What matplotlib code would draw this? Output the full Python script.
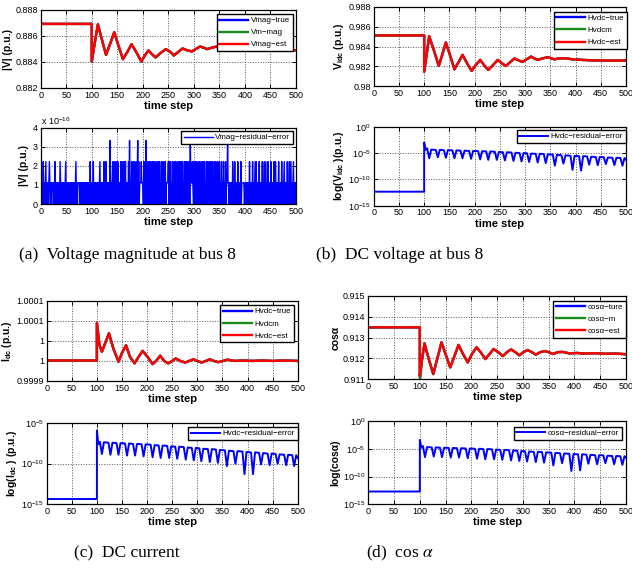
import matplotlib
matplotlib.use("Agg")
import matplotlib.pyplot as plt
import numpy as np
from matplotlib.ticker import FixedLocator, NullLocator

plt.rcParams['font.family'] = ['Liberation Sans', 'DejaVu Sans']
plt.rcParams['mathtext.fontset'] = 'stix'

# ---- state estimates (true / measured / estimated overlap) ----
t_vmag = [0, 100, 100, 106, 112, 120, 128, 136, 144, 152, 161, 170, 178, 188, 197,
          204, 211, 218, 225, 235, 245, 253, 261, 270, 278, 287, 296, 304, 312, 319,
          326, 335, 345, 353, 362, 370, 380, 390, 400, 415, 430, 445, 460, 475, 490, 500]
vmag = [0.88693, 0.88693, 0.88404, 0.8855, 0.88690, 0.8857, 0.88455, 0.8854, 0.88629,
        0.8853, 0.88422, 0.8848, 0.88537, 0.8847, 0.88404, 0.8845, 0.88489, 0.8846,
        0.88435, 0.8847, 0.88499, 0.8848, 0.8845, 0.8848, 0.88504, 0.8849, 0.88481,
        0.8850, 0.88519, 0.8851, 0.88499, 0.8851, 0.88519, 0.8851, 0.8850, 0.8851,
        0.88515, 0.8850, 0.88495, 0.8850, 0.88497, 0.88502, 0.88495, 0.8850, 0.88492, 0.88490]

t_vdc = [0, 100, 100, 105, 110, 120, 129, 136, 143, 152, 160, 168, 176, 185, 194, 202,
         211, 219, 227, 236, 246, 254, 262, 270, 279, 287, 295, 303, 312, 318, 325, 335,
         345, 352, 358, 368, 378, 395, 414, 435, 455, 475, 500]
vdc = [0.98512, 0.98512, 0.98146, 0.9832, 0.98503, 0.9835, 0.98203, 0.9832, 0.98441,
       0.9830, 0.98169, 0.9824, 0.98315, 0.9823, 0.98153, 0.9821, 0.98264, 0.9821,
       0.98163, 0.9821, 0.98264, 0.9823, 0.98203, 0.9824, 0.98278, 0.9826, 0.98244,
       0.9827, 0.98298, 0.9828, 0.98264, 0.9828, 0.98292, 0.9828, 0.9827, 0.9828,
       0.98281, 0.9827, 0.98264, 0.9826, 0.98258, 0.98257, 0.98258]

t_idc = [0, 100, 100, 105, 110, 117, 124, 133, 143, 150, 158, 166, 175, 183, 191, 201,
         211, 218, 226, 234, 242, 250, 257, 266, 276, 284, 292, 300, 309, 317, 325, 333,
         342, 351, 360, 375, 390, 410, 430, 450, 470, 500]
idc = [0.999951, 0.999951, 1.000045, 0.99999, 0.999973, 0.999996, 1.0000187, 0.99998,
       0.999948, 0.99997, 0.9999888, 0.99996, 0.999944, 0.99996, 0.999975, 0.99996,
       0.999942, 0.99995, 0.999963, 0.99995, 0.999944, 0.99995, 0.999956, 0.99995,
       0.999946, 0.99995, 0.999954, 0.99995, 0.999946, 0.99995, 0.999954, 0.99995,
       0.999947, 0.99995, 0.999953, 0.99995, 0.999951, 0.99995, 0.999951, 0.99995,
       0.999951, 0.99995]

t_cosa = [0, 100, 100, 104, 109, 117, 126, 134, 142, 150, 159, 167, 175, 184, 193, 201,
          210, 218, 227, 235, 243, 252, 261, 269, 277, 285, 293, 301, 309, 317, 325, 334,
          343, 350, 358, 368, 377, 390, 405, 420, 440, 460, 480, 500]
cosa = [0.913486, 0.913486, 0.91115, 0.9119, 0.91272, 0.9120, 0.91125, 0.9120, 0.91277,
        0.9122, 0.91157, 0.9121, 0.91264, 0.9122, 0.91181, 0.9122, 0.91253, 0.9123,
        0.91197, 0.9122, 0.91245, 0.9123, 0.91211, 0.9123, 0.91243, 0.9123, 0.91215,
        0.9123, 0.9124, 0.9123, 0.91218, 0.9123, 0.91235, 0.9123, 0.91221, 0.9123,
        0.91231, 0.91224, 0.91226, 0.91223, 0.91225, 0.91222, 0.91223, 0.9122]
cosa_meas_dip = 0.9108   # measured value right after the fault

# ---- residuals ----
# |V| residual in multiples of 1.11e-16, one digit per time step (0..500)
vmag_res_digits = [
    "0101020101" "2010101210" "1011101020" "1010101021" "0101011012",
    "0101010110" "1010101012" "0101111010" "1010101101" "0101010201",
    "0102010101" "0101012010" "1010201020" "1010103010" "1202012021",
    "0201010202" "0120202010" "1020301020" "1202010201" "3020111211",
    "1020203020" "2012020120" "2020102021" "0202010202" "0120201111",
    "2020201020" "1202020102" "0201202020" "1020202012" "0203111210",
    "2010202010" "2020102012" "0201020201" "2020120201" "0202010201",
    "2010201020" "1020113110" "1010102010" "2010102010" "1020111110",
    "1101010102" "0101020101" "2020101020" "1010201020" "1201020101",
    "0201010201" "2010102010" "1020101201" "0102010201" "20101201011",
]
res_quantum = 1.11e-16

res_t = [0, 100, 100, 103, 106,
         110, 114, 123, 127, 131, 139, 143, 147, 156, 160, 164, 172,
         176, 180, 189, 193, 197, 207, 211, 215, 223, 227, 231, 240,
         244, 248, 256, 260, 264, 273, 277, 281, 289, 293, 297, 304,
         308, 312, 321, 325, 329, 337, 341, 345, 355, 359, 363, 372,
         376, 380, 390, 394, 398, 407, 411, 415, 423, 427, 431, 440,
         444, 448, 456, 460, 464, 473, 477, 481, 489, 493, 497, 500]
# log10 of residual errors
vdc_res_log = [-12.34, -12.34, -3.0, -4.4, -4.1,
               -6.0, -4.35, -4.4, -5.8, -4.4, -4.45, -5.9, -4.45, -4.5, -6.0, -4.5, -4.55,
               -6.0, -4.55, -4.6, -6.1, -4.6, -4.65, -6.2, -4.65, -4.7, -6.3, -4.7, -4.75,
               -6.3, -4.8, -4.85, -6.4, -4.85, -4.9, -6.5, -4.95, -5.0, -6.6, -5.0, -5.05,
               -6.7, -5.1, -5.15, -6.8, -5.15, -5.2, -6.9, -5.25, -5.3, -7.4, -5.35, -5.4,
               -7.0, -5.45, -5.5, -8.2, -5.55, -5.6, -8.35, -5.6, -5.65, -7.2, -5.7, -5.75,
               -7.3, -5.75, -5.8, -7.1, -5.85, -5.9, -7.3, -5.9, -5.95, -7.4, -5.95, -6.3]
idc_res_log = [-14.38, -14.38, -5.9, -7.6, -7.3,
               -8.8, -7.35, -7.4, -8.9, -7.4, -7.45, -8.9, -7.45, -7.5, -9.0, -7.5, -7.55,
               -9.0, -7.55, -7.6, -9.1, -7.6, -7.65, -9.2, -7.7, -7.75, -9.3, -7.75, -7.8,
               -9.3, -7.85, -7.9, -9.4, -7.9, -7.95, -9.5, -8.0, -8.05, -9.6, -8.05, -8.1,
               -9.7, -8.15, -8.2, -9.8, -8.2, -8.25, -9.9, -8.3, -8.35, -10.3, -8.4, -8.45,
               -10.0, -8.45, -8.5, -11.3, -8.55, -8.6, -11.3, -8.6, -8.65, -10.1, -8.7, -8.75,
               -10.2, -8.75, -8.8, -10.0, -8.85, -8.9, -10.2, -8.9, -8.95, -10.3, -8.95, -9.3]
cosa_res_log = [-12.7, -12.7, -3.4, -4.8, -4.5,
                -6.5, -4.7, -4.75, -6.4, -4.75, -4.8, -6.5, -4.8, -4.85, -6.6, -4.85, -4.9,
                -6.6, -4.9, -4.95, -6.7, -4.95, -5.0, -6.8, -5.0, -5.05, -6.9, -5.05, -5.1,
                -6.9, -5.15, -5.2, -7.0, -5.2, -5.25, -7.1, -5.3, -5.35, -7.2, -5.4, -5.45,
                -7.3, -5.5, -5.55, -7.4, -5.55, -5.6, -7.5, -5.65, -5.7, -8.0, -5.75, -5.8,
                -7.6, -5.85, -5.9, -9.0, -5.95, -6.0, -8.9, -6.0, -6.05, -7.7, -6.1, -6.15,
                -7.8, -6.15, -6.2, -7.6, -6.25, -6.3, -7.8, -6.3, -6.35, -7.9, -6.35, -6.6]

BLUE, GREEN, RED = '#0000ff', '#1a8c1a', '#ff0000'
W, H = 632, 570


def add_axes(fig, left, right, top, bottom):
    return fig.add_axes([left / W, 1 - bottom / H, (right - left) / W, (bottom - top) / H])


def style(ax):
    ax.set_xlim(0, 500)
    ax.set_xticks(np.arange(0, 501, 50))
    ax.grid(True, linestyle=':', color='#555555', linewidth=0.7)
    ax.tick_params(direction='in', length=3, labelsize=6.5, pad=2,
                   top=True, right=True, width=0.7)
    ax.set_xlabel('time step', fontsize=8, fontweight='bold', labelpad=1)
    for sp in ax.spines.values():
        sp.set_linewidth(0.9)


def legend(ax, x, y):
    lg = ax.legend(loc='upper right', bbox_to_anchor=(x, y), borderaxespad=0,
                   fontsize=5.8, fancybox=False, framealpha=1, edgecolor='black',
                   handlelength=3.6, handletextpad=0.3, labelspacing=0.55,
                   borderpad=0.35)
    lg.get_frame().set_linewidth(1.0)


def state_panel(ax, t, true_v, meas_v, est_v, labels):
    ax.plot(t, true_v, color=BLUE, lw=1.7, label=labels[0])
    ax.plot(t, meas_v, color=GREEN, lw=1.7, label=labels[1])
    ax.plot(t, est_v, color=RED, lw=1.7, label=labels[2])
    style(ax)


def log_panel(ax, t, logv, label, lo, hi):
    ax.semilogy(t, 10.0 ** np.array(logv), color=BLUE, lw=1.4, label=label)
    style(ax)
    ax.set_ylim(10.0 ** lo, 10.0 ** hi)
    ax.yaxis.set_major_locator(FixedLocator([10.0 ** k for k in range(lo, hi + 1, 5)]))
    ax.yaxis.set_minor_locator(NullLocator())


fig = plt.figure(figsize=(W / 100, H / 100), dpi=100)

# (a) voltage magnitude
ax = add_axes(fig, 40.7, 296, 10, 88)
state_panel(ax, t_vmag, vmag, vmag, vmag, ['Vmag\u2212true', 'Vm\u2212mag', 'Vmag\u2212est'])
ax.set_ylim(0.882, 0.888)
ax.set_yticks([0.882, 0.884, 0.886, 0.888])
ax.set_yticklabels(['0.882', '0.884', '0.886', '0.888'])
ax.set_ylabel('|V| (p.u.)', fontsize=7.5, fontweight='bold', labelpad=2)
legend(ax, 0.988, 0.95)

ax = add_axes(fig, 40.7, 296, 127.7, 204)
levels = np.array([int(c) for c in ''.join(vmag_res_digits)])
ax.plot(np.arange(len(levels)), levels * res_quantum / 1e-16, color=BLUE, lw=1.0,
        label='Vmag\u2212residual\u2212error')
style(ax)
ax.set_ylim(0, 4)
ax.set_yticks([0, 1, 2, 3, 4])
ax.set_ylabel('|V| (p.u.)', fontsize=7.5, fontweight='bold', labelpad=3)
ax.text(0, 1.03, 'x 10$^{\\mathregular{-16}}$', transform=ax.transAxes, fontsize=6.5)
legend(ax, 0.988, 0.957)

# (b) DC voltage
ax = add_axes(fig, 373.7, 626, 7, 86)
state_panel(ax, t_vdc, vdc, vdc, vdc, ['Hvdc\u2212true', 'Hvdcm', 'Hvdc\u2212est'])
ax.set_ylim(0.980, 0.988)
ax.set_yticks([0.980, 0.982, 0.984, 0.986, 0.988])
ax.set_yticklabels(['0.98', '0.982', '0.984', '0.986', '0.988'])
ax.set_ylabel('V$_{\\mathregular{idc}}$ (p.u.)', fontsize=7.5, fontweight='bold', labelpad=2)
legend(ax, 1.005, 0.94)

ax = add_axes(fig, 373.7, 626, 126.7, 205.7)
log_panel(ax, res_t, vdc_res_log, 'Hvdc\u2212residual\u2212error', -15, 0)
ax.set_ylabel('log(V$_{\\mathregular{idc}}$ )(p.u.)', fontsize=7.5, fontweight='bold', labelpad=2)
legend(ax, 1.0, 0.958)

# (c) DC current
ax = add_axes(fig, 46.7, 297.7, 300.7, 381)
state_panel(ax, t_idc, idc, idc, idc, ['Hvdc\u2212true', 'Hvdcm', 'Hvdc\u2212est'])
ax.set_ylim(0.9999, 1.0001)
ax.set_yticks([0.9999, 0.99995, 1.0, 1.00005, 1.0001])
ax.set_yticklabels(['0.9999', '1', '1', '1.0001', '1.0001'])
ax.set_ylabel('I$_{\\mathregular{dc}}$ (p.u.)', fontsize=7.5, fontweight='bold', labelpad=2)
legend(ax, 0.985, 0.946)

ax = add_axes(fig, 46.7, 297.7, 423.3, 504)
log_panel(ax, res_t, idc_res_log, 'Hvdc\u2212residual\u2212error', -15, -5)
ax.set_ylabel('log(I$_{\\mathregular{dc}}$ ) (p.u.)', fontsize=7.5, fontweight='bold', labelpad=2)
legend(ax, 1.0, 0.954)

# (d) cos alpha
ax = add_axes(fig, 368.3, 626, 295.7, 379.3)
cosa_meas = list(cosa)
cosa_meas[2] = cosa_meas_dip
state_panel(ax, t_cosa, cosa, cosa_meas, cosa,
            ['cos\u03b1\u2212ture', 'cos\u03b1\u2212m', 'cos\u03b1\u2212est'])
ax.set_ylim(0.911, 0.915)
ax.set_yticks([0.911, 0.912, 0.913, 0.914, 0.915])
ax.set_yticklabels(['0.911', '0.912', '0.913', '0.914', '0.915'])
ax.set_ylabel('cos\u03b1', fontsize=7.5, fontweight='bold', labelpad=2)
legend(ax, 1.0, 0.94)

ax = add_axes(fig, 368.3, 626, 421, 504.3)
log_panel(ax, res_t, cosa_res_log, 'cos\u03b1\u2212residual\u2212error', -15, 0)
ax.set_ylabel('log(cos\u03b1)', fontsize=7.5, fontweight='bold', labelpad=2)
legend(ax, 0.984, 0.93)

# sub-figure captions
cap = dict(ha='center', va='center', fontsize=12.5, family=['Liberation Serif', 'DejaVu Serif'])
fig.text(127 / W, 1 - 255 / H, '(a)  Voltage magnitude at bus 8', **cap)
fig.text(400 / W, 1 - 255 / H, '(b)  DC voltage at bus 8', **cap)
fig.text(127 / W, 1 - 553 / H, '(c)  DC current', **cap)
fig.text(400 / W, 1 - 553 / H, '(d)  cos $\\alpha$', **cap)

fig.savefig('out.png', dpi=100)
